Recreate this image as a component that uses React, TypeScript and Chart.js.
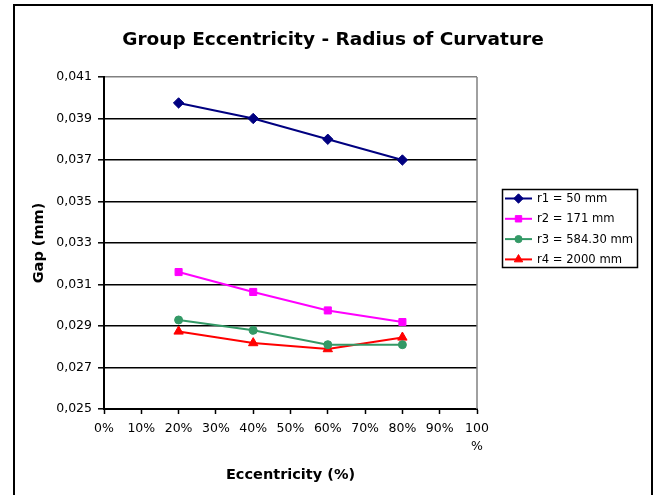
import React, { useEffect, useRef } from 'react';
import { Chart, registerables } from 'chart.js';
import { drawPoint } from 'chart.js/helpers';

Chart.register(...registerables);

const TITLE = 'Group Eccentricity - Radius of Curvature';
const X_TITLE = 'Eccentricity (%)';
const Y_TITLE = 'Gap (mm)';

const ECCENTRICITY = [20, 40, 60, 80];
const SERIES_LABELS = ['r1 = 50 mm', 'r2 = 171 mm', 'r3 = 584.30 mm', 'r4 = 2000 mm'];
const R1 = [0.03975, 0.039, 0.038, 0.037];
const R2 = [0.0316, 0.03064, 0.02975, 0.02919];
const R3 = [0.02929, 0.02879, 0.0281, 0.0281];
const R4 = [0.02874, 0.02818, 0.02789, 0.02845];

const X_TICKS = [0, 10, 20, 30, 40, 50, 60, 70, 80, 90, 100];
const Y_TICKS = [0.025, 0.027, 0.029, 0.031, 0.033, 0.035, 0.037, 0.039, 0.041];

const COLORS = ['#000080', '#FF00FF', '#339966', '#FF0000'];
const MARKERS = ['rectRot', 'rect', 'circle', 'triangle'];
const RADII = [5.2, 5, 4, 5.4];

const FONT = "'DejaVu Sans', sans-serif";

const framePlugin = {
  id: 'frame',
  beforeDraw(chart: any) {
    const { ctx, width, height } = chart;
    ctx.save();
    ctx.fillStyle = '#fff';
    ctx.fillRect(0, 0, width, height);
    ctx.strokeStyle = '#000';
    ctx.lineWidth = 2;
    ctx.strokeRect(14, 5, 638, height + 10);
    ctx.fillStyle = '#000';
    ctx.font = `bold 18.5px ${FONT}`;
    ctx.textAlign = 'center';
    ctx.textBaseline = 'middle';
    ctx.fillText(TITLE, 333, 40);
    ctx.restore();
  },
  beforeDatasetsDraw(chart: any) {
    const { ctx, chartArea } = chart;
    ctx.save();
    ctx.strokeStyle = '#808080';
    ctx.lineWidth = 1.5;
    ctx.beginPath();
    ctx.moveTo(chartArea.right, chartArea.top);
    ctx.lineTo(chartArea.right, chartArea.bottom);
    ctx.stroke();
    ctx.restore();
  },
  afterDraw(chart: any) {
    const { ctx } = chart;
    const datasets = chart.data.datasets;
    ctx.save();
    ctx.strokeStyle = '#000';
    ctx.lineWidth = 1.5;
    ctx.strokeRect(502.5, 189.5, 135, 78);
    ctx.font = `11.6px ${FONT}`;
    ctx.textAlign = 'left';
    ctx.textBaseline = 'middle';
    datasets.forEach((ds: any, i: number) => {
      const y = 198.5 + i * 20.3;
      ctx.strokeStyle = ds.borderColor;
      ctx.lineWidth = ds.borderWidth;
      ctx.beginPath();
      ctx.moveTo(505, y);
      ctx.lineTo(532, y);
      ctx.stroke();
      ctx.fillStyle = ds.backgroundColor;
      ctx.strokeStyle = ds.borderColor;
      ctx.lineWidth = 1;
      drawPoint(ctx, { pointStyle: ds.pointStyle, radius: ds.pointRadius * 0.9, borderWidth: 1, rotation: 0 } as any, 518.5, y);
      ctx.fillStyle = '#000';
      ctx.fillText(ds.label, 537, y + 0.5);
    });
    ctx.restore();
  },
};

export default function App() {
  const ref = useRef<HTMLCanvasElement>(null);
  useEffect(() => {
    document.body.style.margin = '0';
    const canvas = ref.current!;
    Chart.defaults.font.family = FONT;
    Chart.defaults.color = '#000';
    const datasets = [R1, R2, R3, R4].map((vals, i) => ({
      label: SERIES_LABELS[i],
      data: ECCENTRICITY.map((x, j) => ({ x, y: vals[j] })),
      borderColor: COLORS[i],
      backgroundColor: COLORS[i],
      pointStyle: MARKERS[i],
      pointRadius: RADII[i],
      pointBorderWidth: 1,
      borderWidth: 2,
      tension: 0,
      fill: false,
    }));
    const yMin = Y_TICKS[0];
    const yMax = Y_TICKS[Y_TICKS.length - 1];
    const chart = new Chart(canvas, {
      type: 'line',
      data: { datasets } as any,
      options: {
        responsive: false,
        animation: false,
        layout: { padding: { left: 30, right: 180, top: 77, bottom: 0 } },
        plugins: {
          legend: { display: false },
          title: { display: false },
          tooltip: { enabled: false },
        },
        scales: {
          x: {
            type: 'linear',
            min: X_TICKS[0],
            max: X_TICKS[X_TICKS.length - 1],
            ticks: {
              stepSize: X_TICKS[1] - X_TICKS[0],
              autoSkip: false,
              maxRotation: 0,
              padding: 6,
              color: '#000',
              font: { size: 12.5, lineHeight: 1.45 },
              callback: (v: any) => (v === 100 ? ['100', '%'] : `${v}%`),
            },
            grid: { drawOnChartArea: false, drawTicks: true, tickLength: 5, tickColor: '#000', tickWidth: 1.5 },
            border: { color: '#000', width: 2 },
            title: {
              display: true,
              text: X_TITLE,
              color: '#000',
              font: { size: 14.5, weight: 'bold' },
              padding: { top: 0, bottom: 11 },
            },
            afterFit: (s: any) => {
              s.height = 86;
            },
          },
          y: {
            type: 'linear',
            min: yMin,
            max: yMax,
            ticks: {
              stepSize: Y_TICKS[1] - Y_TICKS[0],
              autoSkip: false,
              padding: 6,
              color: '#000',
              font: { size: 12.5 },
              callback: (v: any) => Number(v).toFixed(3).replace('.', ','),
            },
            grid: {
              color: (c: any) => (c.tick && Math.abs(c.tick.value - yMax) < 1e-9 ? '#808080' : '#000'),
              lineWidth: 1.6,
              drawTicks: true,
              tickLength: 6,
              tickColor: '#000',
              tickWidth: 1.5,
            },
            border: { color: '#000', width: 2 },
            title: {
              display: true,
              text: Y_TITLE,
              color: '#000',
              font: { size: 14.5, weight: 'bold' },
              padding: { top: 1, bottom: 0 },
            },
            afterFit: (s: any) => {
              s.width = 74;
            },
          },
        },
      } as any,
      plugins: [framePlugin],
    });
    return () => chart.destroy();
  }, []);
  return (
    <div style={{ width: 657, height: 495 }}>
      <canvas ref={ref} width={657} height={495} style={{ display: 'block' }} />
    </div>
  );
}
